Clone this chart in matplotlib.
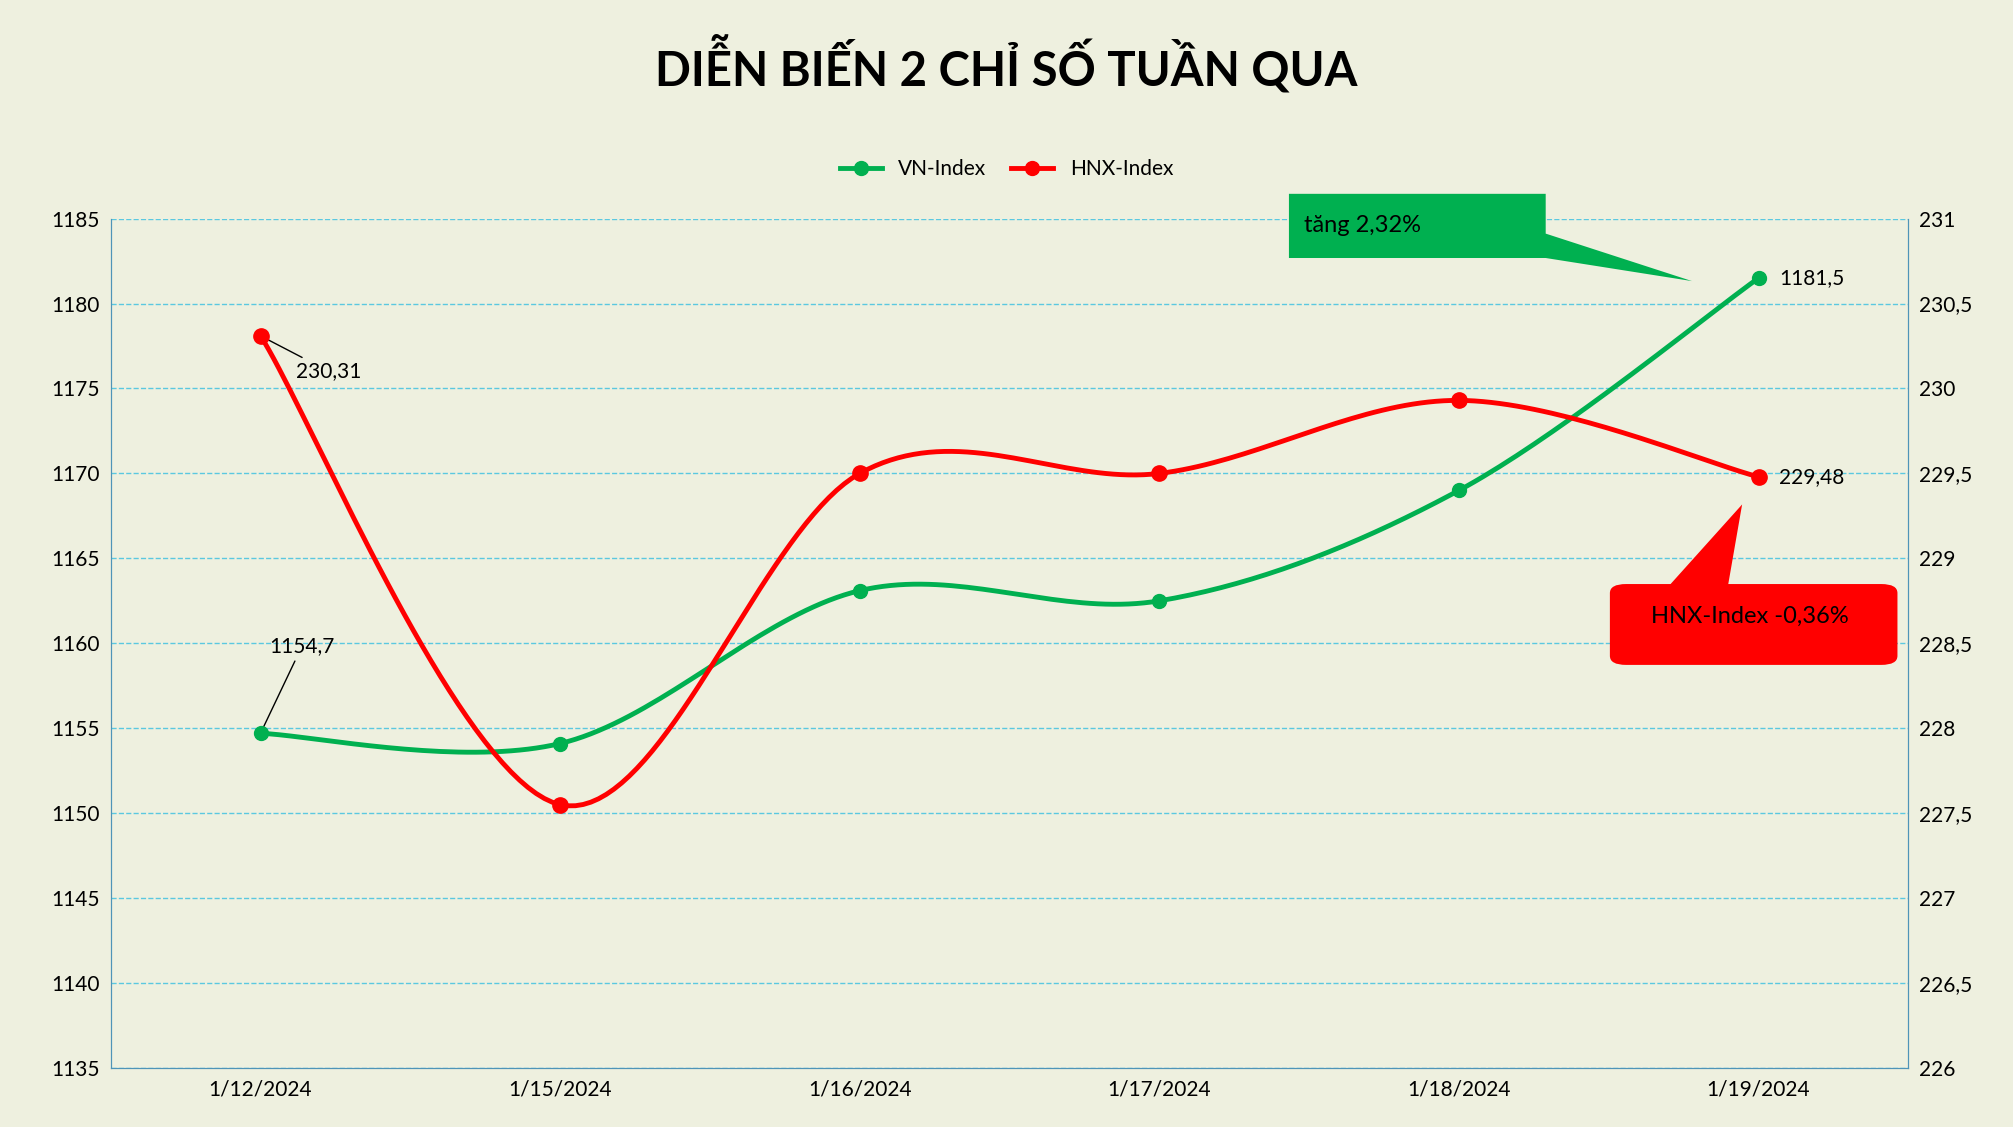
import matplotlib
matplotlib.use("Agg")
import matplotlib.pyplot as plt
import numpy as np
from matplotlib.patches import Polygon, FancyBboxPatch

dates = ["1/12/2024", "1/15/2024", "1/16/2024", "1/17/2024", "1/18/2024", "1/19/2024"]
vn = [1154.7, 1154.1, 1163.1, 1162.5, 1169.0, 1181.5]
hnx = [230.31, 227.55, 229.50, 229.50, 229.93, 229.48]

BG = "#EEF0DF"
GREEN = "#00B050"
RED = "#FF0000"
plt.rcParams['font.family'] = ['Lato', 'DejaVu Sans']

def smooth(y, n=40):
    y = np.asarray(y, float)
    x = np.arange(len(y), dtype=float)
    P = np.vstack([x, y]).T
    P = np.vstack([P[0], P, P[-1]])
    out = []
    for i in range(1, len(P) - 2):
        p0, p1, p2, p3 = P[i-1], P[i], P[i+1], P[i+2]
        c1 = p1 + (p2 - p0) / 6
        c2 = p2 - (p3 - p1) / 6
        t = np.linspace(0, 1, n)[:, None]
        b = (1-t)**3*p1 + 3*(1-t)**2*t*c1 + 3*(1-t)*t**2*c2 + t**3*p2
        out.append(b)
    b = np.vstack(out)
    return b[:, 0], b[:, 1]

fig = plt.figure(figsize=(20.13, 11.27), dpi=100, facecolor=BG)
ax = fig.add_axes([0.055, 0.0524, 0.893, 0.7536])
ax.set_facecolor(BG)
ax2 = ax.twinx()
x = np.arange(len(dates))

ax.set_ylim(1135, 1185)
ax.set_yticks(np.arange(1135, 1186, 5))
ax2.set_ylim(226, 231)
ax2.set_yticks(np.arange(226, 231.01, 0.5))
ax2.set_yticklabels([f"{v:g}".replace(".", ",") for v in np.arange(226, 231.01, 0.5)])
ax.set_xlim(-0.5, 5.5)
ax.set_xticks(x)
ax.set_xticklabels(dates)
ax.grid(axis='y', color='#5BC8E0', linestyle='--', linewidth=1)
for a in (ax, ax2):
    a.tick_params(length=0, labelsize=15, pad=8)
    for s in a.spines.values():
        s.set_color('#4F94B8')
    a.spines['top'].set_visible(False)

sx, sy = smooth(vn)
ax.plot(sx, sy, color=GREEN, lw=3.5, zorder=3)
ax.plot(x, vn, 'o', color=GREEN, ms=10, zorder=4)
hx, hy = smooth(hnx)
ax2.plot(hx, hy, color=RED, lw=3.5, zorder=3)
ax2.plot(x, hnx, 'o', color=RED, ms=11, zorder=4)

ax.plot([], [], '-o', color=GREEN, lw=3.5, ms=10, label='VN-Index')
ax.plot([], [], '-o', color=RED, lw=3.5, ms=10, label='HNX-Index')
fig.legend(*ax.get_legend_handles_labels(), loc='center', bbox_to_anchor=(0.5, 1-132/878),
           ncol=2, frameon=False, fontsize=15, handlelength=2, columnspacing=1.2)

fig.text(0.5, 1-50/878, "DIỄN BIẾN 2 CHỈ SỐ TUẦN QUA", ha='center', va='center',
         fontsize=34, fontweight='bold')

# labels
ax.annotate("1154,7", xy=(0, vn[0]), xytext=(0.03, 1159.5), fontsize=15,
            arrowprops=dict(arrowstyle='-', color='black', lw=1))
ax.text(5.07, vn[5], "1181,5", fontsize=15, va='center')
ax2.annotate("230,31", xy=(0, hnx[0]), xytext=(0.12, 230.1), fontsize=15, va='center',
             arrowprops=dict(arrowstyle='-', color='black', lw=1))
ax2.text(5.07, hnx[5], "229,48", fontsize=15, va='center')

def F(px, py):
    return (px/1568, 1-py/878)

# green callout
fig.patches.append(Polygon([F(1004,151), F(1204,151), F(1204,182), F(1318,219), F(1204,201), F(1004,201)],
                           closed=True, transform=fig.transFigure, facecolor=GREEN, edgecolor='none'))
fig.text(*F(1016,176), "tăng 2,32%", fontsize=17, va='center', color='black')
# red callout
fig.patches.append(Polygon([F(1295,462), F(1357,393), F(1345,462)], closed=True,
                           transform=fig.transFigure, facecolor=RED, edgecolor='none'))
x0, y0 = F(1254, 518); x1, y1 = F(1478, 455)
fig.patches.append(FancyBboxPatch((x0, y0), x1-x0, y1-y0, boxstyle="round,pad=0,rounding_size=0.008",
                                  transform=fig.transFigure, facecolor=RED, edgecolor='none'))
fig.text(*F(1363,480), "HNX-Index -0,36%", fontsize=17, va='center', ha='center', color='black')

fig.savefig("out.png", dpi=100, facecolor=BG)
